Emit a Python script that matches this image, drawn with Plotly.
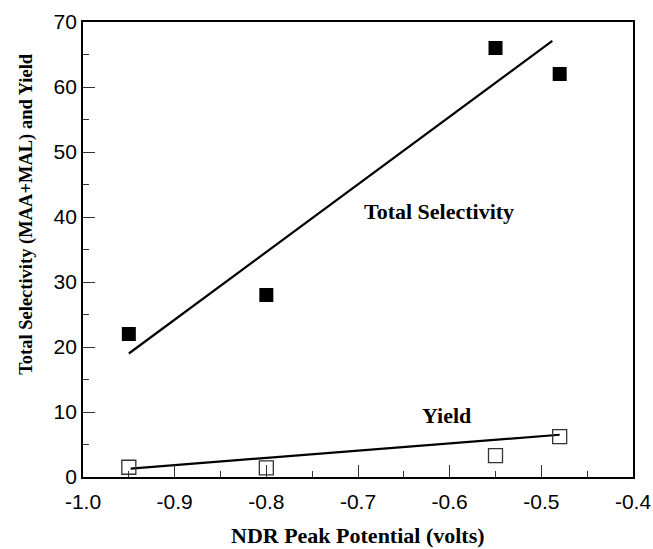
import plotly.graph_objects as go

# Data
ndr_potential = [-0.95, -0.80, -0.55, -0.48]
total_selectivity = [22, 28, 66, 62]
yield_values = [1.5, 1.4, 3.3, 6.2]

# Fitted trend lines (endpoints)
sel_fit_x = [-0.95, -0.488]
sel_fit_y = [19.0, 67.1]
yield_fit_x = [-0.948, -0.48]
yield_fit_y = [1.3, 6.5]

x_ticks = [-1.0, -0.9, -0.8, -0.7, -0.6, -0.5, -0.4]
x_tick_labels = ["-1.0", "-0.9", "-0.8", "-0.7", "-0.6", "-0.5", "-0.4"]
y_ticks = [0, 10, 20, 30, 40, 50, 60, 70]

serif = "Liberation Serif"
sans = "Liberation Sans"

fig = go.Figure()
fig.add_trace(go.Scatter(x=sel_fit_x, y=sel_fit_y, mode="lines",
                         line=dict(color="black", width=2.2), showlegend=False))
fig.add_trace(go.Scatter(x=yield_fit_x, y=yield_fit_y, mode="lines",
                         line=dict(color="black", width=2.2), showlegend=False))
fig.add_trace(go.Scatter(x=ndr_potential, y=total_selectivity, mode="markers",
                         marker=dict(symbol="square", size=14, color="black",
                                     line=dict(width=0)), showlegend=False))
fig.add_trace(go.Scatter(x=ndr_potential, y=yield_values, mode="markers",
                         marker=dict(symbol="square-open", size=14, color="#333333",
                                     line=dict(width=1.3, color="#333333")), showlegend=False))

fig.add_annotation(x=-0.612, y=40.8, text="<b>Total Selectivity</b>", showarrow=False,
                   font=dict(family=serif, size=22, color="black"))
fig.add_annotation(x=-0.603, y=9.5, text="<b>Yield</b>", showarrow=False,
                   font=dict(family=serif, size=22, color="black"))

# Axis titles
fig.add_annotation(xref="paper", yref="paper", x=0.5, y=-0.128, yanchor="middle",
                   text="<b>NDR Peak Potential (volts)</b>", showarrow=False,
                   font=dict(family=serif, size=22, color="black"))
fig.add_annotation(xref="paper", yref="paper", x=-0.104, y=0.578, xanchor="center",
                   yanchor="middle", textangle=-90,
                   text="<b>Total Selectivity (MAA+MAL) and Yield</b>", showarrow=False,
                   font=dict(family=serif, size=18.5, color="black"))

fig.update_layout(
    width=653, height=549,
    margin=dict(l=83, r=20, t=22, b=72),
    paper_bgcolor="white", plot_bgcolor="white",
    xaxis=dict(range=[-1.0, -0.4], tickvals=x_ticks, ticktext=x_tick_labels,
               automargin=False,
               ticks="inside", ticklen=12, tickwidth=1.3, tickcolor="#333333",
               minor=dict(ticks="inside", ticklen=6, dtick=0.05, tickwidth=1.3, tickcolor="#333333"),
               showline=True, linecolor="black", linewidth=1.8, mirror=True,
               showgrid=False, zeroline=False, ticklabelstandoff=5,
               tickfont=dict(family=sans, size=21, color="black")),
    yaxis=dict(range=[0, 70], tickvals=y_ticks, automargin=False,
               ticks="inside", ticklen=12, tickwidth=1.3, tickcolor="#333333",
               minor=dict(ticks="inside", ticklen=6, dtick=5, tickwidth=1.3, tickcolor="#333333"),
               showline=True, linecolor="black", linewidth=1.8, mirror=True,
               showgrid=False, zeroline=False,
               tickfont=dict(family=sans, size=21, color="black")),
)

fig.write_html("out.html")
